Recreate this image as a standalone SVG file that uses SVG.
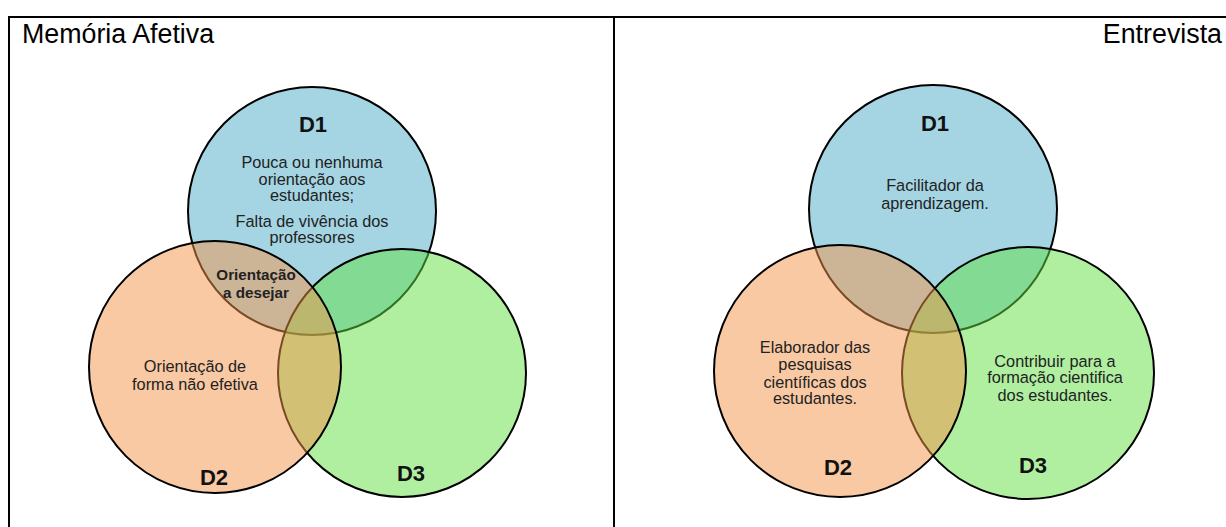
<svg xmlns="http://www.w3.org/2000/svg" width="1226" height="527" viewBox="0 0 1226 527">
  <style>
    .frame { stroke: #000; stroke-width: 2; fill: none; }
    .title { font-family: "Liberation Sans", Arial, sans-serif; font-size: 26.8px; fill: #000; }
    .lbl { font-family: "Liberation Sans", Arial, sans-serif; font-size: 22px; font-weight: bold; fill: #111; text-anchor: middle; }
    .txt { font-family: "Liberation Sans", Arial, sans-serif; font-size: 16.3px; fill: #222; text-anchor: middle; }
    .bold { font-weight: bold; font-size: 15.2px; }
    .c1 { fill: #A5D5E3; stroke: #000; stroke-width: 2; }
    .c2 { fill: #F3934A; fill-opacity: 0.5; stroke: #000; stroke-width: 2; }
    .c3 { fill: #61DF41; fill-opacity: 0.5; stroke: #000; stroke-width: 2; }
  </style>

  <rect width="1226" height="527" fill="#fff"/>

  <!-- table frame -->
  <g id="frame" class="frame">
    <line x1="8" y1="17" x2="1226" y2="17"/>
    <line x1="9" y1="16" x2="9" y2="527"/>
    <line x1="614" y1="17" x2="614" y2="527"/>
  </g>
  <text class="title" x="22" y="43">Memória Afetiva</text>
  <text class="title" x="1222" y="43" text-anchor="end">Entrevista</text>

  <!-- left Venn: D1, D3, D2 painted in this order -->
  <g id="left-d1"><circle class="c1" cx="312" cy="211" r="124"/></g>
  <g id="left-d3"><circle class="c3" cx="402" cy="373" r="124"/></g>
  <g id="left-d2"><circle class="c2" cx="215" cy="367" r="126"/></g>
  <g id="left-labels">
    <text class="lbl" x="313" y="132">D1</text>
    <text class="txt" x="312" y="168">Pouca ou nenhuma</text>
    <text class="txt" x="312" y="185">orientação aos</text>
    <text class="txt" x="312" y="201">estudantes;</text>
    <text class="txt" x="312" y="227">Falta de vivência dos</text>
    <text class="txt" x="312" y="243">professores</text>
    <text class="txt bold" x="256" y="280">Orientação</text>
    <text class="txt bold" x="256" y="298">a desejar</text>
    <text class="txt" x="195" y="372">Orientação de</text>
    <text class="txt" x="195" y="390">forma não efetiva</text>
    <text class="lbl" x="214" y="485">D2</text>
    <text class="lbl" x="411" y="481">D3</text>
  </g>

  <!-- right Venn -->
  <g id="right-d1"><circle class="c1" cx="933" cy="209" r="124"/></g>
  <g id="right-d3"><circle class="c3" cx="1028" cy="373" r="126"/></g>
  <g id="right-d2"><circle class="c2" cx="840" cy="371" r="126"/></g>
  <g id="right-labels">
    <text class="lbl" x="935" y="131">D1</text>
    <text class="txt" x="935" y="191">Facilitador da</text>
    <text class="txt" x="935" y="209">aprendizagem.</text>
    <text class="txt" x="815" y="353">Elaborador das</text>
    <text class="txt" x="815" y="370">pesquisas</text>
    <text class="txt" x="815" y="388">científicas dos</text>
    <text class="txt" x="815" y="404">estudantes.</text>
    <text class="txt" x="1055" y="367">Contribuir para a</text>
    <text class="txt" x="1055" y="383">formação cientifica</text>
    <text class="txt" x="1055" y="401">dos estudantes.</text>
    <text class="lbl" x="838" y="475">D2</text>
    <text class="lbl" x="1033" y="473">D3</text>
  </g>
</svg>
